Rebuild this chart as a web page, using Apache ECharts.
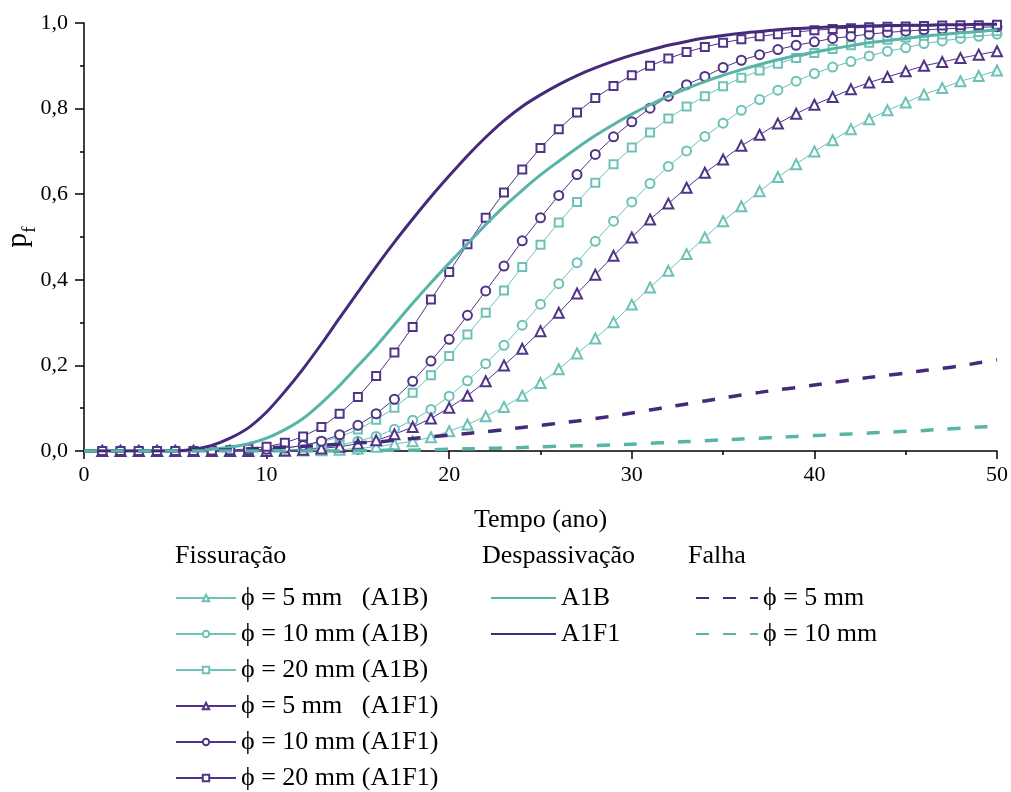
<!DOCTYPE html>
<html>
<head>
<meta charset="utf-8">
<script src="https://cdn.jsdelivr.net/npm/echarts@6/dist/echarts.min.js"></script>
<style>
html,body{margin:0;padding:0;background:#fff;}
#chart{width:1011px;height:792px;}
</style>
</head>
<body>
<div id="chart"></div>
<script>
// ---- Data (years) ----
const years = [1,2,3,4,5,6,7,8,9,10,11,12,13,14,15,16,17,18,19,20,21,22,23,24,25,26,27,28,29,30,31,32,33,34,35,36,37,38,39,40,41,42,43,44,45,46,47,48,49,50];
const yearsLine = [0,1,2,3,4,5,6,7,8,9,10,11,12,13,14,15,16,17,18,19,20,21,22,23,24,25,26,27,28,29,30,31,32,33,34,35,36,37,38,39,40,41,42,43,44,45,46,47,48,49,50];

// Fissuração (markers) - years 1..50
const fis5A1B  = [0,0,0,0,0,0,0,0,0,0,0,0.001,0.002,0.003,0.006,0.010,0.016,0.023,0.032,0.046,0.062,0.081,0.103,0.129,0.159,0.191,0.228,0.263,0.301,0.342,0.382,0.421,0.460,0.499,0.537,0.572,0.607,0.640,0.670,0.700,0.726,0.752,0.775,0.796,0.814,0.833,0.848,0.864,0.876,0.889];
const fis10A1B = [0,0,0,0,0,0,0,0,0,0.001,0.002,0.004,0.008,0.014,0.023,0.034,0.051,0.072,0.097,0.128,0.164,0.204,0.247,0.294,0.343,0.391,0.440,0.490,0.537,0.582,0.625,0.665,0.701,0.735,0.766,0.796,0.821,0.843,0.864,0.882,0.897,0.910,0.923,0.934,0.942,0.952,0.958,0.964,0.969,0.974];
const fis20A1B = [0,0,0,0,0,0,0,0,0.001,0.003,0.007,0.012,0.021,0.033,0.050,0.073,0.101,0.136,0.177,0.222,0.272,0.323,0.375,0.430,0.482,0.534,0.582,0.627,0.670,0.709,0.744,0.777,0.805,0.829,0.852,0.872,0.889,0.905,0.918,0.930,0.939,0.948,0.954,0.961,0.966,0.970,0.973,0.976,0.979,0.981];
const fis5A1F1  = [0,0,0,0,0,0,0,0,0,0,0.001,0.003,0.006,0.010,0.017,0.025,0.039,0.056,0.076,0.101,0.129,0.163,0.200,0.239,0.280,0.323,0.368,0.412,0.456,0.499,0.541,0.578,0.615,0.650,0.681,0.713,0.739,0.765,0.788,0.809,0.827,0.845,0.861,0.874,0.887,0.900,0.909,0.918,0.926,0.934];
const fis10A1F1 = [0,0,0,0,0,0,0,0.001,0.002,0.004,0.007,0.013,0.023,0.038,0.060,0.087,0.121,0.163,0.210,0.261,0.317,0.374,0.432,0.491,0.545,0.597,0.646,0.693,0.734,0.769,0.801,0.829,0.856,0.875,0.896,0.913,0.926,0.938,0.948,0.956,0.964,0.969,0.974,0.978,0.981,0.984,0.986,0.988,0.990,0.991];
const fis20A1F1 = [0,0,0,0,0,0,0.001,0.002,0.005,0.010,0.019,0.034,0.056,0.087,0.126,0.175,0.230,0.290,0.354,0.418,0.483,0.545,0.604,0.658,0.708,0.752,0.791,0.825,0.853,0.878,0.900,0.917,0.932,0.944,0.954,0.962,0.969,0.974,0.979,0.983,0.986,0.988,0.990,0.991,0.992,0.993,0.994,0.995,0.995,0.996];

// Despassivação (solid) - years 0..50
const despA1B  = [0,0,0,0,0,0,0,0.004,0.009,0.017,0.030,0.050,0.076,0.112,0.153,0.199,0.245,0.295,0.345,0.393,0.439,0.484,0.529,0.571,0.609,0.645,0.677,0.708,0.737,0.763,0.787,0.809,0.829,0.847,0.863,0.878,0.891,0.903,0.914,0.924,0.932,0.940,0.947,0.954,0.959,0.964,0.969,0.973,0.977,0.980,0.984];
const despA1F1 = [0,0,0,0,0,0,0.004,0.013,0.030,0.054,0.091,0.139,0.192,0.250,0.311,0.371,0.431,0.488,0.542,0.594,0.643,0.690,0.733,0.772,0.805,0.832,0.856,0.877,0.895,0.911,0.925,0.937,0.948,0.957,0.965,0.971,0.976,0.980,0.984,0.987,0.989,0.991,0.992,0.993,0.994,0.995,0.995,0.996,0.996,0.997,0.997];

// Falha (dashed) - years 0..50
const falha5  = [0,0,0,0,0,0,0.001,0.002,0.003,0.005,0.007,0.009,0.011,0.013,0.016,0.019,0.021,0.025,0.029,0.033,0.037,0.041,0.045,0.050,0.055,0.060,0.065,0.070,0.076,0.082,0.089,0.096,0.103,0.110,0.117,0.124,0.131,0.137,0.143,0.148,0.154,0.160,0.166,0.172,0.177,0.182,0.188,0.193,0.199,0.206,0.213];
const falha10 = [0,0,0,0,0,0,0,0,0,0,0,0,0,0,0,0.001,0.001,0.002,0.002,0.003,0.004,0.005,0.006,0.007,0.008,0.010,0.011,0.012,0.013,0.014,0.016,0.018,0.020,0.022,0.024,0.026,0.028,0.030,0.032,0.034,0.036,0.038,0.040,0.042,0.044,0.046,0.048,0.051,0.053,0.056,0.058];

const xTicks = [0,10,20,30,40,50];
const yTicks = [0,0.2,0.4,0.6,0.8,1.0];

const names = {
  f5B: 'ϕ = 5 mm   (A1B)', f10B: 'ϕ = 10 mm (A1B)', f20B: 'ϕ = 20 mm (A1B)',
  f5F: 'ϕ = 5 mm   (A1F1)', f10F: 'ϕ = 10 mm (A1F1)', f20F: 'ϕ = 20 mm (A1F1)',
  dB: 'A1B', dF: 'A1F1', fa5: 'ϕ = 5 mm', fa10: 'ϕ = 10 mm'
};

const PURPLE = '#452a7c';
const PURPLE_M = '#4f3487';
const TEAL = '#57b4a7';
const TEAL_M = '#6cc2b6';
const FONT = '"Liberation Serif","Times New Roman",serif';

function pairs(xs, ys){ return xs.map((x,i)=>[x, ys[i]]); }

function markerSeries(name, ys, color, symbol, size){
  return {
    name, type:'line', data: pairs(years, ys),
    symbol, symbolSize: size, showAllSymbol: true,
    lineStyle:{color, width:1},
    itemStyle:{color, borderColor: color, borderWidth:1, opacity:1},
    emphasis:{disabled:true}, z:3
  };
}
function plainSeries(name, ys, color, type, width){
  return {
    name, type:'line', data: pairs(yearsLine, ys),
    symbol:'none', smooth: 0.3,
    lineStyle:{color, width, type, cap:'butt'},
    itemStyle:{color},
    emphasis:{disabled:true}, z:4
  };
}

const chart = echarts.init(document.getElementById('chart'), null, {renderer:'canvas'});

const legendText = {fontFamily: FONT, fontSize: 26, color:'#000', lineHeight: 26};
const hideSym = n => ({name: n, itemStyle:{opacity:0}});

// one legend component per row, for exact row placement
function legendRow(item, left, row, width){
  return {
    left, top: 585 + row * 36, padding:0, orient:'horizontal',
    itemWidth: width, itemHeight: 8, selectedMode:false,
    textStyle: legendText, data:[item]
  };
}

chart.setOption({
  animation:false,
  backgroundColor:'#fff',
  textStyle:{fontFamily: FONT},
  grid:{left:84, right:14, top:23, bottom:341, containLabel:false, outerBoundsMode:'none'},
  xAxis:{
    type:'value', min:0, max:50, interval:10,
    name:'Tempo (ano)', nameLocation:'middle', nameGap:56, nameMoveOverlap:false,
    nameTextStyle:{fontFamily:FONT, fontSize:26, color:'#000'},
    axisLine:{show:true, lineStyle:{color:'#000', width:1.5}},
    axisTick:{show:true, inside:false, length:8, lineStyle:{color:'#000', width:1.5}},
    minorTick:{show:true, splitNumber:2, length:4, lineStyle:{color:'#000', width:1.5}},
    axisLabel:{fontFamily:FONT, fontSize:22, color:'#000', margin:13,
      formatter: v => xTicks.includes(v) ? String(v) : ''},
    splitLine:{show:false}
  },
  yAxis:{
    type:'value', min:0, max:1, interval:0.2,
    name:'{p|p}{s|f}', nameLocation:'middle', nameGap:44, nameRotate:90, nameMoveOverlap:false,
    nameTextStyle:{
      fontFamily:FONT, color:'#000',
      rich:{
        p:{fontFamily:FONT, fontSize:30, color:'#000', lineHeight:30, padding:[0,0,7,0], verticalAlign:'bottom'},
        s:{fontFamily:FONT, fontSize:19, color:'#000', lineHeight:19, verticalAlign:'bottom'}
      }
    },
    axisLine:{show:true, lineStyle:{color:'#000', width:1.5}},
    axisTick:{show:true, inside:false, length:9, lineStyle:{color:'#000', width:1.5}},
    minorTick:{show:true, splitNumber:2, length:4, lineStyle:{color:'#000', width:1.5}},
    axisLabel:{fontFamily:FONT, fontSize:22, color:'#000', margin:16,
      formatter: v => {
        const t = yTicks.find(k => Math.abs(k - v) < 1e-9);
        return t === undefined ? '' : t.toFixed(1).replace('.', ',');
      }},
    splitLine:{show:false}
  },
  legend:[
    legendRow(names.f5B, 175, 0, 60),
    legendRow(names.f10B, 175, 1, 60),
    legendRow(names.f20B, 175, 2, 60),
    legendRow(names.f5F, 175, 3, 60),
    legendRow(names.f10F, 175, 4, 60),
    legendRow(names.f20F, 175, 5, 60),
    legendRow(hideSym(names.dB), 490, 0, 65),
    legendRow(hideSym(names.dF), 490, 1, 65),
    legendRow(hideSym(names.fa5), 695, 0, 62),
    legendRow(hideSym(names.fa10), 695, 1, 62)
  ],
  graphic:[
    {type:'text', left:175, top:543, style:{text:'Fissuração', font:'26px ' + FONT, fill:'#000'}},
    {type:'text', left:482, top:543, style:{text:'Despassivação', font:'26px ' + FONT, fill:'#000'}},
    {type:'text', left:688, top:543, style:{text:'Falha', font:'26px ' + FONT, fill:'#000'}}
  ],
  series:[
    markerSeries(names.f5B, fis5A1B, TEAL_M, 'emptyTriangle', 10),
    markerSeries(names.f10B, fis10A1B, TEAL_M, 'emptyCircle', 9),
    markerSeries(names.f20B, fis20A1B, TEAL_M, 'emptyRect', 8),
    markerSeries(names.f5F, fis5A1F1, PURPLE_M, 'emptyTriangle', 10),
    markerSeries(names.f10F, fis10A1F1, PURPLE_M, 'emptyCircle', 9),
    markerSeries(names.f20F, fis20A1F1, PURPLE_M, 'emptyRect', 8),
    plainSeries(names.dB, despA1B, TEAL, 'solid', 3),
    plainSeries(names.dF, despA1F1, PURPLE, 'solid', 3),
    plainSeries(names.fa5, falha5, PURPLE, [13,14], 3.5),
    plainSeries(names.fa10, falha10, TEAL, [13,14], 3.5)
  ]
});
</script>
</body>
</html>
